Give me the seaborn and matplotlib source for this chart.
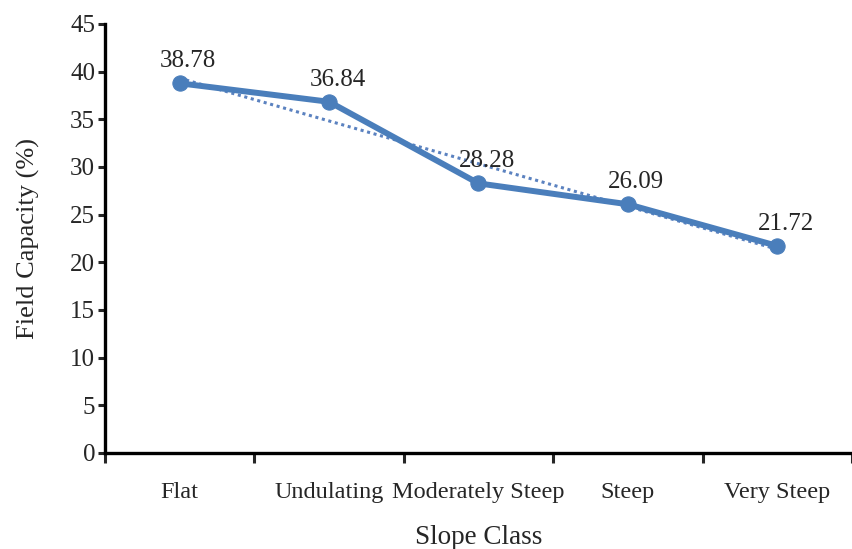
import numpy as np
import pandas as pd
import matplotlib.pyplot as plt
import seaborn as sns

# data
slope_class = ["Flat", "Undulating", "Moderately Steep", "Steep", "Very Steep"]
field_capacity = [38.78, 36.84, 28.28, 26.09, 21.72]
value_labels = ["38.78", "36.84", "28.28", "26.09", "21.72"]

df = pd.DataFrame({"slope": slope_class, "fc": field_capacity,
                   "pos": np.arange(len(slope_class))})

sns.set_style("white")
plt.rcParams["font.family"] = ["Liberation Serif", "DejaVu Serif"]

fig = plt.figure(figsize=(8.52, 5.49), dpi=100)
ax = fig.add_axes([0.1232, 0.1749, 0.8768, 0.7814])

line_color = "#4a7ebb"

# linear trend (dotted)
sns.regplot(data=df, x="pos", y="fc", ax=ax, scatter=False, ci=None,
            line_kws={"color": "#5b82c0", "linestyle": (0, (1, 1.2)), "linewidth": 2.2})

# main series
sns.lineplot(data=df, x="pos", y="fc", ax=ax, color=line_color, linewidth=4.3,
             marker="o", markersize=11, markeredgecolor=line_color)

for xi, yi, lab in zip(df["pos"], df["fc"], value_labels):
    ax.annotate(lab, (xi, yi), xytext=(6, 16), textcoords="offset points",
                ha="center", va="center", fontsize=18)

ax.set_xlim(-0.5, 4.48)
ax.set_ylim(0, 45)
ax.set_yticks(range(0, 46, 5))
ax.set_xticks(df["pos"])
ax.set_xticklabels(slope_class)
ax.set_xticks(np.arange(-0.5, 5, 1), minor=True)

ax.tick_params(axis="x", which="major", length=0, pad=21, labelsize=17.5)
ax.tick_params(axis="x", which="minor", length=7, width=2.2, direction="out", bottom=True)
ax.tick_params(axis="y", length=5, width=2.2, direction="out", left=True, labelsize=18, pad=2)

for side in ["top", "right"]:
    ax.spines[side].set_visible(False)
for side in ["left", "bottom"]:
    ax.spines[side].set_linewidth(2.4)
    ax.spines[side].set_color("black")

ax.set_xlabel("Slope Class", fontsize=19.5, labelpad=16)
ax.set_ylabel("Field Capacity (%)", fontsize=19, labelpad=22)

fig.savefig("out.png", dpi=100)
